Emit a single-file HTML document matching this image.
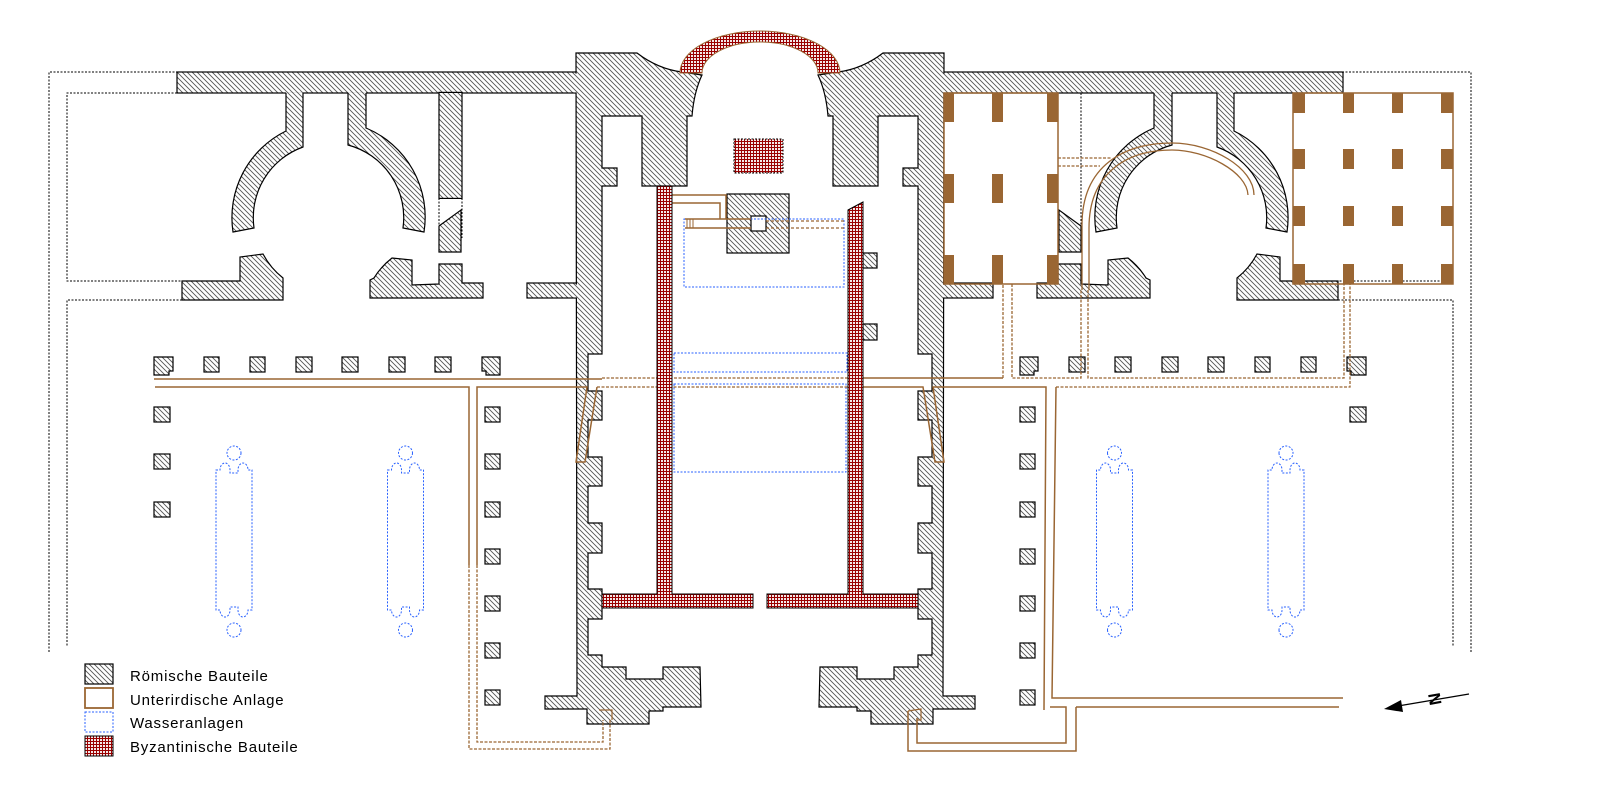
<!DOCTYPE html>
<html><head><meta charset="utf-8"><style>
html,body{margin:0;padding:0;background:#fff;}
svg{display:block;}
text{font-family:"Liberation Sans",Arial,sans-serif;}
</style></head><body>
<svg width="1618" height="794" viewBox="0 0 1618 794" xmlns="http://www.w3.org/2000/svg">
<defs>
<pattern id="h" width="5" height="5" patternUnits="userSpaceOnUse"><rect width="5" height="5" fill="#fff"/><path d="M-1,-1L6,6M-1,4L1,6M4,-1L6,1" stroke="#555" stroke-width="0.9"/></pattern>
<pattern id="hm" width="5" height="5" patternUnits="userSpaceOnUse"><rect width="5" height="5" fill="#fff"/><path d="M6,-1L-1,6M1,-1L-1,1M6,4L4,6" stroke="#555" stroke-width="0.9"/></pattern>
<pattern id="b" width="3" height="3" patternUnits="userSpaceOnUse"><rect width="3" height="3" fill="#f4e8e8"/><path d="M0,0.5H3M0.5,0V3" stroke="#9a0000" stroke-width="1"/></pattern>
<g id="basin" fill="none" stroke="#2a62ff" stroke-width="1" stroke-dasharray="2,1.5">
<path d="M-18,0H-14A5,7 0 0 1 -4,0V3H4V0A5,7 0 0 1 14,0H18V140H14A5,7 0 0 1 4,140V137H-4V140A5,7 0 0 1 -14,140H-18Z"/>
<circle cx="0" cy="-17" r="7"/><circle cx="0" cy="160" r="7"/>
</g>
<g id="wing" stroke="#000" stroke-width="1.2">
<g fill="none" stroke-dasharray="2,1.5" stroke-width="1">
<path d="M49,652V72H177"/>
<path d="M177,93H67V281H182"/>
<path d="M182,300H67V646"/>
</g>
<rect x="177" y="72" width="400" height="21"/>
<path stroke="none" d="M233,232A96.5,96.5 0 0 1 286,131L286,92.4L303,92.4L303,147A75,75 0 0 0 254,228Z"/>
<path fill="none" d="M303,93V147A75,75 0 0 0 254,228L233,232A96.5,96.5 0 0 1 286,131V93"/>
<path stroke="none" d="M348,92.4L366,92.4L366,128A96.5,96.5 0 0 1 424,232L403,228A75,75 0 0 0 348,145Z"/>
<path fill="none" d="M348,93V145A75,75 0 0 1 403,228L424,232A96.5,96.5 0 0 0 366,128V93"/>
<path d="M182,300V281H240V257L263,254A75,75 0 0 0 283,278V300Z"/>
<path d="M370,298V280L374,278A75,75 0 0 1 392,258L412,260V285L439,284V264H462V283H483V298Z"/>
<rect x="527" y="283" width="50" height="15"/>
<path d="M439,226L461,210V252H439Z"/>
<g>
<path d="M154,357H173V371H169V375H154Z"/>
<rect x="204" y="357" width="15" height="15"/>
<rect x="250" y="357" width="15" height="15"/>
<rect x="296" y="357" width="16" height="15"/>
<rect x="342" y="357" width="16" height="15"/>
<rect x="389" y="357" width="16" height="15"/>
<rect x="435" y="357" width="16" height="15"/>
<path d="M482,357H500V375H486V371H482Z"/>
<rect x="154" y="407" width="16" height="15"/>
<rect x="485" y="407" width="15" height="15"/>
<rect x="485" y="454" width="15" height="15"/>
<rect x="485" y="502" width="15" height="15"/>
<rect x="485" y="549" width="15" height="15"/>
<rect x="485" y="596" width="15" height="15"/>
<rect x="485" y="643" width="15" height="15"/>
<rect x="485" y="690" width="15" height="15"/>
</g>
<use href="#basin" x="234" y="470"/>
<use href="#basin" x="405.5" y="470"/>
</g>
<path id="half" stroke="#000" stroke-width="1.2" d="M576,53L637,53Q658,69 682,72L702,75Q694,92 692,116L687,116L687,186L642,186L642,116L602,116L602,168L617,168L617,186L602,186L602,354L588,354L588,391L602,391L602,420L588,420L588,457L602,457L602,486L588,486L588,523L602,523L602,553L588,553L588,589L602,589L602,619L588,619L588,655L602,655L602,667L626,667L626,679L663,679L663,667L700,667L701,707L663,707L663,711L649,711L649,724L587,724L587,709L545,709L545,696L577,696Z"/>
</defs>

<use href="#wing" fill="url(#h)"/>
<g transform="matrix(-1,0,0,1,1520,0)"><use href="#wing" fill="url(#hm)"/></g>
<rect x="439" y="92.4" width="23" height="106" fill="url(#h)" stroke="#000" stroke-width="1.2"/>
<path d="M439,198V238M462,198V238" stroke="#000" stroke-dasharray="2,1.5" fill="none"/>
<rect x="154" y="454" width="16" height="15" fill="url(#h)" stroke="#000" stroke-width="1.2"/>
<rect x="154" y="502" width="16" height="15" fill="url(#h)" stroke="#000" stroke-width="1.2"/>
<path d="M1081,93V252" stroke="#000" stroke-dasharray="2,1.5" fill="none"/>

<use href="#half" fill="url(#h)"/>
<g transform="matrix(-1,0,0,1,1520,0)"><use href="#half" fill="url(#hm)"/></g>
<rect x="574" y="73.6" width="6" height="18.8" fill="url(#h)"/>
<rect x="574" y="284.6" width="6" height="12.8" fill="url(#h)"/>
<rect x="940" y="73.6" width="6" height="18.8" fill="url(#h)"/>
<rect x="940" y="284.6" width="6" height="12.8" fill="url(#h)"/>

<path d="M680,73A80,42 0 0 1 840,73L818,73A58,31 0 0 0 702,73Z" fill="url(#b)" stroke="#9a6633" stroke-width="1"/>
<rect x="734" y="139" width="49" height="34" fill="url(#b)" stroke="#000" stroke-dasharray="2,1.5"/>

<rect x="727" y="194" width="62" height="59" fill="url(#h)" stroke="#000" stroke-width="1.2"/>
<rect x="751" y="216" width="15" height="15" fill="#fff" stroke="#000" stroke-width="1.2"/>
<rect x="684" y="219" width="160" height="68" fill="none" stroke="#2a62ff" stroke-dasharray="2,1.5"/>
<rect x="674" y="353" width="173" height="19" fill="none" stroke="#2a62ff" stroke-dasharray="2,1.5"/>
<rect x="674" y="384" width="172" height="88" fill="none" stroke="#2a62ff" stroke-dasharray="2,1.5"/>
<rect x="863" y="253" width="14" height="15" fill="url(#h)" stroke="#000" stroke-width="1.2"/>
<rect x="863" y="324" width="14" height="16" fill="url(#h)" stroke="#000" stroke-width="1.2"/>

<g fill="none" stroke="#9a6633" stroke-width="1.5">
<path d="M672,195H726V219M672,203H720V219M685,219H751M685,228H751"/>
<path d="M687,219V228M690,219V228M693,219V228" stroke-width="1"/>
<path d="M766,221H845M766,228H845" stroke-dasharray="3,2" stroke-width="1.2"/>
<path d="M154,379H602M155,387H469V565M477,565V387H587L576,462H585L597,387"/>
<path d="M862,378H1003M862,387H923L935,462H944L933,387H1046L1044,710M1056,387L1052,698H1343"/>
<path d="M1050,707H1066V743H917V718M1076,707H1339M1076,707V751H908V711"/>
<path d="M908,711L921,709V720L917,720" stroke-width="1.2"/>
<path d="M599,710H612V720" stroke-width="1.2"/>
<g stroke-dasharray="3,1.5" stroke-width="1.3">
<path d="M602,378H848M597,387H848"/>
<path d="M469,565V749H610V720M477,565V742H603V720"/>
<path d="M1003,378V284M1012,284V378H1081V290M1088,290V378H1344V284M1056,387H1350V284"/>
<path d="M1058,158H1112M1058,166H1100"/>
</g>
<path d="M1082,290V225C1082,165 1125,143 1172,143C1212,143 1254,168 1254,195M1089,290V228C1089,172 1128,150 1172,150C1206,150 1247,172 1248,195" stroke-width="1.3"/>
</g>

<g fill="url(#b)" stroke="#000" stroke-width="1">
<path d="M657,186H672V594H753V608H602V594H657Z"/>
<path d="M848,210L863,202V594H918V608H767V594H848Z"/>
</g>

<g fill="none" stroke="#9a6633" stroke-width="1.5">
<rect x="944" y="93" width="114" height="191"/>
<rect x="1293" y="93" width="160" height="191"/>
</g>
<g fill="#9a6633">
<rect x="944" y="93" width="10" height="29"/><rect x="992" y="93" width="11" height="29"/><rect x="1047" y="93" width="11" height="29"/>
<rect x="944" y="174" width="10" height="29"/><rect x="992" y="174" width="11" height="29"/><rect x="1047" y="174" width="11" height="29"/>
<rect x="944" y="255" width="10" height="29"/><rect x="992" y="255" width="11" height="29"/><rect x="1047" y="255" width="11" height="29"/>
<rect x="1293" y="93" width="12" height="20"/><rect x="1343" y="93" width="11" height="20"/><rect x="1392" y="93" width="11" height="20"/><rect x="1441" y="93" width="12" height="20"/>
<rect x="1293" y="149" width="12" height="20"/><rect x="1343" y="149" width="11" height="20"/><rect x="1392" y="149" width="11" height="20"/><rect x="1441" y="149" width="12" height="20"/>
<rect x="1293" y="206" width="12" height="20"/><rect x="1343" y="206" width="11" height="20"/><rect x="1392" y="206" width="11" height="20"/><rect x="1441" y="206" width="12" height="20"/>
<rect x="1293" y="264" width="12" height="20"/><rect x="1343" y="264" width="11" height="20"/><rect x="1392" y="264" width="11" height="20"/><rect x="1441" y="264" width="12" height="20"/>
</g>

<line x1="1469" y1="694" x2="1398" y2="706" stroke="#000" stroke-width="1.2"/>
<polygon points="1384,709 1401,700 1403,712" fill="#000"/>
<text x="0" y="0" font-size="17" font-weight="bold" transform="translate(1428,694) rotate(80)">N</text>

<rect x="85" y="664" width="28" height="20" fill="url(#h)" stroke="#000" stroke-width="1.2"/>
<rect x="85" y="688" width="28" height="20" fill="#fff" stroke="#9a6633" stroke-width="1.8"/>
<rect x="85" y="712" width="28" height="20" fill="#fff" stroke="#2a62ff" stroke-dasharray="2,1.5"/>
<rect x="85" y="736" width="28" height="20" fill="url(#b)" stroke="#000" stroke-width="1"/>
<g font-size="15" letter-spacing="0.8" fill="#000">
<text x="130" y="681">Römische Bauteile</text>
<text x="130" y="705">Unterirdische Anlage</text>
<text x="130" y="728">Wasseranlagen</text>
<text x="130" y="752">Byzantinische Bauteile</text>
</g>
</svg>
</body></html>
